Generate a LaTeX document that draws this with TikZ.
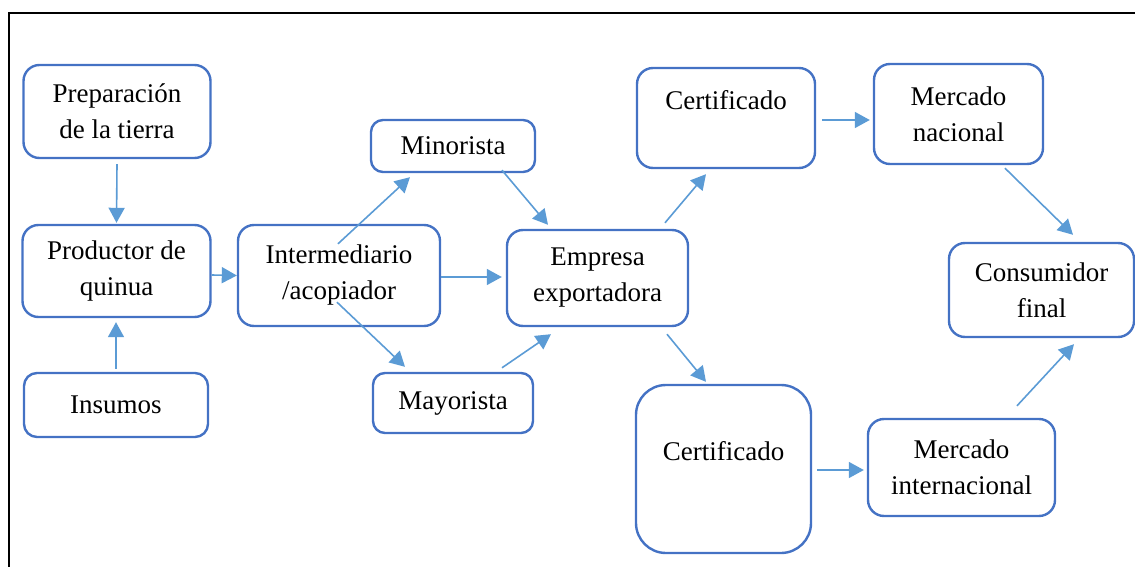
\documentclass[tikz,border=0pt]{standalone}
\usepackage{fontspec}
\setmainfont{Liberation Serif}
\usepackage{tikz}
\usetikzlibrary{arrows.meta, calc}
\definecolor{cajaazul}{HTML}{4472C4}
\definecolor{flechaazul}{HTML}{5B9BD5}

\begin{document}
\begin{tikzpicture}[x=0.5pt, y=-0.5pt,
    caja/.style={draw=cajaazul, line width=1.2pt, rounded corners=8pt, align=center,
      inner sep=0pt, font=\fontsize{13.5}{18}\selectfont},
    flecha/.style={draw=flechaazul, line width=0.8pt, -{Triangle[length=7.5pt, width=8pt]}}
    ]
    \useasboundingbox (0,0) rectangle (1135,567);
    \draw[line width=1pt] (9,567) |- (1135,13);

    \node[caja, minimum width=93.5pt, minimum height=46.5pt] (prep) at (117,111.5) {Preparación\\de la tierra};
    \node[caja, minimum width=94pt, minimum height=46pt] (prod) at (116.5,271) {Productor de\\quinua};
    \node[caja, minimum width=92pt, minimum height=32pt, rounded corners=6.5pt] (ins) at (116,405) {Insumos};
    \node[caja, minimum width=101pt, minimum height=50.5pt] (inter) at (339,275.5) {Intermediario\\/acopiador};
    \node[caja, minimum width=82pt, minimum height=26pt, rounded corners=6pt] (mino) at (453,146) {Minorista};
    \node[caja, minimum width=80pt, minimum height=30pt, rounded corners=6pt] (mayo) at (453,403) {Mayorista};
    \node[caja, minimum width=90.5pt, minimum height=48pt] (emp) at (597.5,278) {Empresa\\exportadora};
    \node[caja, minimum width=89pt, minimum height=50pt] (cert1) at (726,118) {Certificado\\~};
    \node[caja, minimum width=87.5pt, minimum height=84pt, rounded corners=15pt] (cert2) at (723.5,469) {Certificado\\~};
    \node[caja, minimum width=84.5pt, minimum height=50pt] (mnac) at (958.5,114) {Mercado\\nacional};
    \node[caja, minimum width=93.5pt, minimum height=48.5pt] (mint) at (961.5,467.5) {Mercado\\internacional};
    \node[caja, minimum width=92.5pt, minimum height=47pt] (cons) at (1041.5,290) {Consumidor\\final};

    \draw[flecha] ($(prep.south)+(0,5)$) -- ($(prod.north)+(0,-1)$);
    \draw[flecha] ($(ins.north)+(0,-3)$) -- ($(prod.south)+(-0.5,4)$);
    \draw[flecha] ($(prod.east)+(0,4)$) -- (inter.west);
    \draw[flecha] ($(inter.north)+(-1,20)$) -- ($(mino.south)+(-43,4)$);
    \draw[flecha] ($(inter.south)+(-2,-25)$) -- ($(mayo.north)+(-48,-5)$);
    \draw[flecha] ($(inter.east)+(0,1.5)$) -- ($(emp.west)+(-4,-1)$);
    \draw[flecha] ($(mino.south)+(49,-3)$) -- ($(emp.north)+(-49.5,-4)$);
    \draw[flecha] ($(mayo.north)+(49,-4)$) -- ($(emp.south)+(-46.5,7)$);
    \draw[flecha] ($(emp.north)+(67.5,-6)$) -- ($(cert1.south)+(-20,5)$);
    \draw[flecha] ($(emp.south)+(69.5,7)$) -- ($(cert2.north)+(-17.5,-2)$);
    \draw[flecha] ($(cert1.east)+(6,2)$) -- ($(mnac.west)+(-3,6)$);
    \draw[flecha] ($(cert2.east)+(5,1)$) -- ($(mint.west)+(-3,2.5)$);
    \draw[flecha] ($(mnac.south)+(46.5,3)$) -- ($(cons.north)+(31.5,-7)$);
    \draw[flecha] ($(mint.north)+(55.5,-12)$) -- ($(cons.south)+(32.5,6)$);
\end{tikzpicture}
\end{document}
